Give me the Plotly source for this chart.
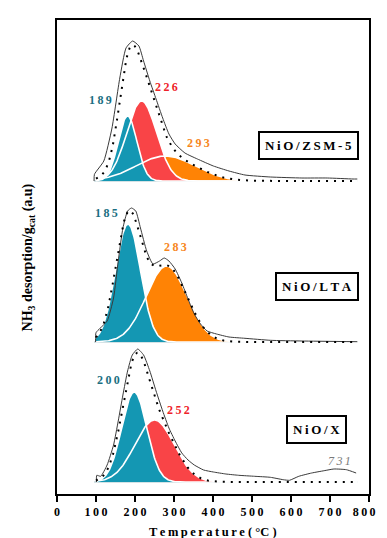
import numpy as np
import plotly.graph_objects as go

# ---------------- data ----------------
# experimental NH3-TPD profiles (temperature in degC, signal in a.u.)
zsm_T = [95, 96, 120, 141, 161, 177, 194, 210, 222, 238, 254, 271, 287, 303, 328, 360, 401, 441, 482, 547, 628, 693, 759, 770]
zsm_h = [0, 6.7, 20, 53, 103, 133, 140, 135, 120, 100, 82, 63, 47, 37, 28, 22, 15, 10, 6, 4, 3, 3, 2, 2]

lta_T = [99, 100, 128.5, 145, 157, 169, 181, 191, 202, 214, 230, 246, 263, 275, 287, 303, 320, 336, 352, 368, 385, 409, 441, 482, 547, 628, 770]
lta_h = [0, 9.3, 21, 44, 81, 114, 131, 134, 131, 114, 91, 78, 81, 84, 81, 73, 59, 43, 28, 18, 11, 8, 5, 3.7, 1.7, 1, 0.3]

nx_T = [101, 102, 112, 128.5, 145, 157, 169, 181, 193, 207, 222, 238, 254, 271, 287, 303, 320, 336, 352, 376, 401, 433, 466, 507, 547, 580, 596, 620, 653, 685, 710, 742, 767]
nx_h = [0, 6.7, 5.7, 17, 37, 61, 87, 111, 127, 133, 127, 111, 91, 71, 54, 41, 29, 22, 17, 12, 10, 8, 6.7, 5.7, 4.7, 2.3, 1.7, 5.7, 9, 11.3, 13, 12.3, 9]

# Gaussian deconvolution components: centre (degC), height (a.u.), width sigma (degC)
zsm_centres = [181, 217, 278]
zsm_heights = [65, 80, 25]
zsm_sigmas = [24, 38, 75]

lta_centres = [182, 281]
lta_heights = [118, 76]
lta_sigmas = [32, 52]

nx_centres = [198, 250]
nx_heights = [90, 62]
nx_sigmas = [32, 50]

peak_labels_zsm = ["189", "226", "293"]
peak_labels_lta = ["185", "283"]
peak_labels_nx = ["200", "252"]

sample_names = ["NiO/ZSM-5", "NiO/LTA", "NiO/X"]

x_tick_vals = [0, 100, 200, 300, 400, 500, 600, 700, 800]

# ---------------- styling ----------------
TEAL = "#1497b3"
RED = "#f94447"
ORANGE = "#ff8305"
TEAL_TXT = "#1b6f82"
RED_TXT = "#ee2229"
ORANGE_TXT = "#f7861c"
FONT = "Liberation Serif"

offsets = {"zsm": 313, "lta": 152, "nx": 12}
grid = np.linspace(100, 770, 400)

fig = go.Figure()


def gauss(t, c, h, s):
    return h * np.exp(-((t - c) ** 2) / (2 * s ** 2))


def add_panel(T, H, centres, heights, sigmas, colors, off):
    comps = [gauss(grid, c, h, s) for c, h, s in zip(centres, heights, sigmas)]
    # baseline
    fig.add_trace(go.Scatter(x=[95, 770], y=[off, off], mode="lines",
                             line=dict(color="#a9c6cc", width=1), hoverinfo="skip"))
    # filled components: last one first so the first (teal) is on top
    for comp, col in reversed(list(zip(comps, colors))):
        xs = np.concatenate([grid, grid[::-1]])
        ys = np.concatenate([off + comp, np.full(len(grid), off)])
        fig.add_trace(go.Scatter(x=xs, y=ys, fill="toself", fillcolor=col, mode="lines",
                                 line=dict(width=0, color=col), hoverinfo="skip"))
    # white outlines on top
    for comp in comps:
        fig.add_trace(go.Scatter(x=grid, y=off + comp, mode="lines",
                                 line=dict(color="white", width=1.6), hoverinfo="skip"))
    # experimental curve
    fig.add_trace(go.Scatter(x=T, y=[off + v for v in H], mode="lines",
                             line=dict(color="#3a3a3a", width=1, shape="spline", smoothing=0.5),
                             hoverinfo="skip"))
    # fit (sum of components), dotted
    total = np.sum(comps, axis=0)
    fig.add_trace(go.Scatter(x=grid, y=off + total, mode="lines",
                             line=dict(color="black", width=2, dash="2px,6px"), hoverinfo="skip"))


add_panel(zsm_T, zsm_h, zsm_centres, zsm_heights, zsm_sigmas, [TEAL, RED, ORANGE], offsets["zsm"])
add_panel(lta_T, lta_h, lta_centres, lta_heights, lta_sigmas, [TEAL, ORANGE], offsets["lta"])
add_panel(nx_T, nx_h, nx_centres, nx_heights, nx_sigmas, [TEAL, RED], offsets["nx"])

TS = "\u2009"


def spaced(s, sep=TS):
    return sep.join(list(s))


annots = []
# peak labels (x in degC, y in a.u.)
lab_specs = [
    (peak_labels_zsm[0], 112, offsets["zsm"] + 81, TEAL_TXT),
    (peak_labels_zsm[1], 281, offsets["zsm"] + 94, RED_TXT),
    (peak_labels_zsm[2], 362, offsets["zsm"] + 38, ORANGE_TXT),
    (peak_labels_lta[0], 128, offsets["lta"] + 129, TEAL_TXT),
    (peak_labels_lta[1], 303, offsets["lta"] + 95, ORANGE_TXT),
    (peak_labels_nx[0], 131, offsets["nx"] + 102, TEAL_TXT),
    (peak_labels_nx[1], 311, offsets["nx"] + 72, RED_TXT),
]
for txt, x, y, col in lab_specs:
    annots.append(dict(x=x, y=y, text="<b>" + spaced(txt) + "</b>", showarrow=False,
                       xanchor="center", yanchor="middle",
                       font=dict(family=FONT, size=12, color=col)))
annots.append(dict(x=724, y=offsets["nx"] + 21, text="<i>" + spaced("731") + "</i>", showarrow=False,
                   xanchor="center", yanchor="middle",
                   font=dict(family=FONT, size=12, color="#7a7a7a")))

# sample name boxes
box_specs = [(sample_names[0], 644, offsets["zsm"] + 36),
             (sample_names[1], 667, offsets["lta"] + 56),
             (sample_names[2], 666, offsets["nx"] + 53)]
for txt, x, y in box_specs:
    annots.append(dict(x=x, y=y, text="<b>" + spaced(txt) + "</b>", showarrow=False,
                       xanchor="center", yanchor="middle",
                       font=dict(family=FONT, size=13, color="black"),
                       bordercolor="black", borderwidth=2, borderpad=5, bgcolor="white"))

# axis titles
annots.append(dict(xref="paper", yref="paper", x=0.5, y=-0.08, xanchor="center", yanchor="middle",
                   text="<b>" + spaced("Temperature") + " ( °C )</b>", showarrow=False,
                   font=dict(family=FONT, size=12.5, color="black")))
annots.append(dict(xref="paper", yref="paper", x=-0.0915, y=0.5, textangle=-90,
                   xanchor="center", yanchor="middle",
                   text="<b>NH<sub>3</sub> desorption/g<sub>cat</sub> (a.u)</b>", showarrow=False,
                   font=dict(family=FONT, size=14, color="black")))

# tick texts; the last one gets trailing thin spaces so it stays inside the page edge
tick_texts = ["<b>" + spaced(str(v), TS) + "</b>" for v in x_tick_vals]
tick_texts[-1] = "<b>" + spaced(str(x_tick_vals[-1]), TS) + TS * 4 + "</b>"

fig.update_layout(
    width=387, height=538,
    margin=dict(l=49, r=10, t=12, b=52),
    plot_bgcolor="white", paper_bgcolor="white",
    showlegend=False,
    annotations=annots,
    xaxis=dict(range=[0, 800], tickvals=x_tick_vals,
               ticktext=tick_texts,
               tickfont=dict(family=FONT, size=12, color="black"),
               ticklabeloverflow="allow",
               ticks="outside", ticklen=6, tickwidth=1.5, tickcolor="black",
               showline=True, linecolor="black", linewidth=2, mirror=True,
               showgrid=False, zeroline=False),
    yaxis=dict(range=[0, 474], showticklabels=False, ticks="",
               showline=True, linecolor="black", linewidth=2, mirror=True,
               showgrid=False, zeroline=False),
)

fig.write_html("out.html")
